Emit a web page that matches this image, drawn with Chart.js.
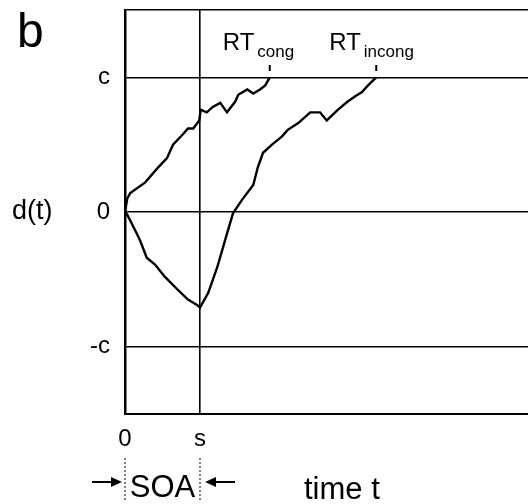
<!DOCTYPE html>
<html lang="en">
<head>
  <meta charset="UTF-8" />
  <title>Diffusion d(t)</title>
  <style>
    html, body { margin: 0; padding: 0; background: #fff; }
    #wrap { width: 528px; height: 504px; }
  </style>
</head>
<body>
  <div id="wrap"><canvas id="chart" width="528" height="504"></canvas></div>

  <script src="https://cdn.jsdelivr.net/npm/chart.js"></script>
  <script>
    // time in units of SOA (s = 1), d(t) in units of the criterion c
    const congT  = [0, 0.03, 0.07, 0.27, 0.44, 0.56, 0.64, 0.76, 0.84, 0.91, 0.99, 1.01, 1.09, 1.17, 1.27, 1.36, 1.47, 1.51, 1.63, 1.71, 1.80, 1.87, 1.93];
    const congD  = [0, 0.10, 0.14, 0.22, 0.33, 0.40, 0.50, 0.57, 0.62, 0.62, 0.68, 0.76, 0.74, 0.78, 0.81, 0.74, 0.82, 0.87, 0.91, 0.88, 0.91, 0.94, 1.0];
    const incongT = [0, 0.03, 0.13, 0.20, 0.29, 0.40, 0.53, 0.69, 0.84, 0.96, 1.0, 1.11, 1.23, 1.36, 1.44, 1.56, 1.71, 1.77, 1.84, 1.96, 2.09, 2.17, 2.31, 2.47, 2.60, 2.69, 2.84, 2.97, 3.07, 3.16, 3.24, 3.35];
    const incongD = [0, -0.02, -0.13, -0.21, -0.34, -0.39, -0.48, -0.57, -0.65, -0.69, -0.71, -0.60, -0.41, -0.16, -0.01, 0.09, 0.20, 0.33, 0.44, 0.50, 0.56, 0.61, 0.66, 0.74, 0.74, 0.68, 0.76, 0.82, 0.86, 0.89, 0.94, 1.0];

    const xTickValues = [0, 1];
    const xTickLabels = ['0', 's'];
    const yTickValues = [-1.5, -1, 0, 1, 1.5];
    const yTickLabels = ['', '-c', '0', 'c', ''];
    const rtLabels = ['cong', 'incong'];

    const FONT = "'Liberation Sans', Arial, sans-serif";
    const xMax = 403 / 75;

    const toPoints = (ts, ds) => ts.map((t, i) => ({ x: t, y: ds[i] }));

    const annotations = {
      id: 'annotations',
      afterDraw(chart) {
        const { ctx, scales: { x, y } } = chart;
        ctx.save();
        ctx.fillStyle = '#000';
        ctx.strokeStyle = '#000';

        // panel letter
        ctx.font = `48px ${FONT}`;
        ctx.textBaseline = 'alphabetic';
        ctx.textAlign = 'left';
        ctx.fillText('b', 17, 47);

        // y axis title
        ctx.font = `27px ${FONT}`;
        ctx.textBaseline = 'middle';
        ctx.fillText('d(t)', 12, y.getPixelForValue(0));

        // RT labels with subscripts and small ticks
        const rtTimes = [congT[congT.length - 1], incongT[incongT.length - 1]];
        rtTimes.forEach((t, i) => {
          const px = x.getPixelForValue(t);
          ctx.textBaseline = 'alphabetic';
          ctx.font = `24px ${FONT}`;
          const rtW = ctx.measureText('RT').width;
          const left = px - 47;
          ctx.fillText('RT', left, 50);
          ctx.font = `17px ${FONT}`;
          ctx.fillText(rtLabels[i], left + rtW + 3, 57);
          ctx.lineWidth = 2;
          ctx.beginPath();
          ctx.moveTo(px, 65);
          ctx.lineTo(px, 71);
          ctx.stroke();
        });

        // SOA bracket
        const x0 = x.getPixelForValue(0);
        const xs = x.getPixelForValue(1);
        ctx.lineWidth = 1;
        ctx.setLineDash([2, 2]);
        [x0, xs].forEach(px => {
          ctx.beginPath();
          ctx.moveTo(px, 458);
          ctx.lineTo(px, 500);
          ctx.stroke();
        });
        ctx.setLineDash([]);
        ctx.font = `31px ${FONT}`;
        ctx.textAlign = 'center';
        ctx.textBaseline = 'alphabetic';
        ctx.fillText('SOA', (x0 + xs) / 2, 497);

        const arrow = (from, to, yy) => {
          const dir = Math.sign(to - from);
          ctx.lineWidth = 2;
          ctx.beginPath();
          ctx.moveTo(from, yy);
          ctx.lineTo(to - dir * 8, yy);
          ctx.stroke();
          ctx.beginPath();
          ctx.moveTo(to, yy);
          ctx.lineTo(to - dir * 11, yy - 5);
          ctx.lineTo(to - dir * 11, yy + 5);
          ctx.closePath();
          ctx.fill();
        };
        arrow(x0 - 33, x0 - 3, 482);
        arrow(xs + 35, xs + 5, 482);

        // x axis title
        ctx.textAlign = 'left';
        ctx.font = `31px ${FONT}`;
        ctx.fillText('time t', 304, 499);

        ctx.restore();
      }
    };

    new Chart(document.getElementById('chart').getContext('2d'), {
      type: 'line',
      data: {
        datasets: [
          { label: 'congruent', data: toPoints(congT, congD) },
          { label: 'incongruent', data: toPoints(incongT, incongD) }
        ]
      },
      options: {
        responsive: false,
        animation: false,
        events: [],
        layout: { padding: { top: 10, right: 0, left: 0, bottom: 0 } },
        elements: {
          line: { borderColor: '#000', borderWidth: 2.4, tension: 0, fill: false },
          point: { radius: 0 }
        },
        plugins: { legend: { display: false }, tooltip: { enabled: false } },
        scales: {
          x: {
            type: 'linear',
            min: 0,
            max: xMax,
            afterBuildTicks: s => { s.ticks = xTickValues.map(v => ({ value: v })); },
            afterFit: s => { s.height = 90; s.paddingLeft = 0; s.paddingRight = 0; },
            grid: { color: '#000', lineWidth: 1.6, drawTicks: false },
            border: { color: '#000', width: 2 },
            ticks: {
              color: '#000',
              padding: 11,
              font: { family: FONT, size: 24 },
              callback: (v) => xTickLabels[xTickValues.indexOf(v)] ?? ''
            }
          },
          y: {
            min: -1.5,
            max: 1.5,
            afterBuildTicks: s => { s.ticks = yTickValues.map(v => ({ value: v })); },
            afterFit: s => { s.width = 125; s.paddingTop = 0; s.paddingBottom = 0; },
            grid: { color: '#000', lineWidth: 1.6, drawTicks: false },
            border: { color: '#000', width: 2.5 },
            ticks: {
              color: '#000',
              padding: 15,
              font: { family: FONT, size: 24 },
              callback: (v) => yTickLabels[yTickValues.indexOf(v)] ?? ''
            }
          }
        }
      },
      plugins: [annotations]
    });
  </script>
</body>
</html>
